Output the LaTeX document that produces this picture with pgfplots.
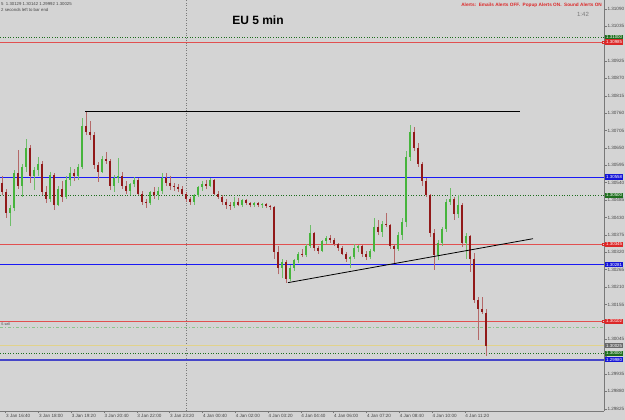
\documentclass[border=0pt]{standalone}
\usepackage{fontspec}
\setmainfont{Liberation Sans}
\usepackage{pgfplots}
\usepackage{pgfplotstable}
\pgfplotsset{compat=1.18}
\definecolor{bg}{RGB}{212,212,212}
\definecolor{axisgray}{RGB}{120,120,120}
\definecolor{tickgray}{RGB}{70,70,70}
\definecolor{upbody}{RGB}{70,180,60}
\definecolor{downbody}{RGB}{145,25,25}
\definecolor{upwick}{RGB}{110,190,105}
\definecolor{downwick}{RGB}{180,105,105}
\definecolor{lgreen}{RGB}{30,110,30}
\definecolor{lred}{RGB}{220,40,40}
\definecolor{lineRed}{RGB}{225,80,80}
\definecolor{lblue}{RGB}{20,20,215}
\definecolor{lineBlue}{RGB}{25,25,245}
\definecolor{lgray}{RGB}{105,105,105}
\definecolor{khaki}{RGB}{225,210,140}
\definecolor{dashgreen}{RGB}{140,195,140}
\definecolor{thickblue}{RGB}{70,70,200}

\pgfplotstableread{
i o h l c
0 1.30540 1.30560 1.30500 1.30510
1 1.30510 1.30520 1.30430 1.30445
2 1.30445 1.30470 1.30404 1.30460
3 1.30460 1.30580 1.30450 1.30570
4 1.30570 1.30644 1.30520 1.30530
5 1.30530 1.30600 1.30495 1.30590
6 1.30590 1.30679 1.30575 1.30650
7 1.30650 1.30660 1.30540 1.30560
8 1.30560 1.30590 1.30517 1.30580
9 1.30580 1.30622 1.30560 1.30600
10 1.30600 1.30610 1.30500 1.30510
11 1.30510 1.30530 1.30477 1.30490
12 1.30490 1.30574 1.30480 1.30565
13 1.30565 1.30570 1.30454 1.30470
14 1.30470 1.30530 1.30465 1.30520
15 1.30520 1.30545 1.30480 1.30495
16 1.30495 1.30560 1.30490 1.30550
17 1.30550 1.30590 1.30530 1.30570
18 1.30570 1.30585 1.30545 1.30560
19 1.30560 1.30600 1.30550 1.30590
20 1.30590 1.30745 1.30585 1.30720
21 1.30720 1.30764 1.30690 1.30700
22 1.30700 1.30735 1.30676 1.30690
23 1.30690 1.30700 1.30585 1.30597
24 1.30597 1.30605 1.30543 1.30575
25 1.30575 1.30625 1.30570 1.30615
26 1.30615 1.30638 1.30600 1.30610
27 1.30610 1.30615 1.30517 1.30530
28 1.30530 1.30565 1.30510 1.30555
29 1.30555 1.30619 1.30540 1.30560
30 1.30560 1.30575 1.30520 1.30530
31 1.30530 1.30545 1.30505 1.30515
32 1.30515 1.30540 1.30502 1.30535
33 1.30535 1.30559 1.30525 1.30550
34 1.30550 1.30555 1.30500 1.30505
35 1.30505 1.30515 1.30470 1.30480
36 1.30480 1.30490 1.30461 1.30475
37 1.30475 1.30515 1.30470 1.30510
38 1.30510 1.30527 1.30490 1.30500
39 1.30500 1.30525 1.30486 1.30515
40 1.30515 1.30571 1.30505 1.30555
41 1.30555 1.30571 1.30530 1.30540
42 1.30540 1.30560 1.30517 1.30530
43 1.30530 1.30540 1.30515 1.30525
44 1.30525 1.30535 1.30511 1.30520
45 1.30520 1.30530 1.30500 1.30505
46 1.30505 1.30510 1.30480 1.30490
47 1.30490 1.30495 1.30470 1.30480
48 1.30480 1.30505 1.30470 1.30500
49 1.30500 1.30530 1.30495 1.30525
50 1.30525 1.30545 1.30515 1.30535
51 1.30535 1.30549 1.30520 1.30530
52 1.30530 1.30556 1.30525 1.30550
53 1.30550 1.30552 1.30500 1.30505
54 1.30505 1.30515 1.30490 1.30495
55 1.30495 1.30500 1.30470 1.30480
56 1.30480 1.30490 1.30458 1.30470
57 1.30470 1.30480 1.30454 1.30465
58 1.30465 1.30495 1.30460 1.30480
59 1.30480 1.30492 1.30465 1.30470
60 1.30470 1.30490 1.30464 1.30485
61 1.30485 1.30490 1.30470 1.30475
62 1.30475 1.30478 1.30462 1.30470
63 1.30470 1.30480 1.30464 1.30476
64 1.30476 1.30480 1.30462 1.30468
65 1.30468 1.30477 1.30461 1.30472
66 1.30472 1.30475 1.30460 1.30466
67 1.30466 1.30470 1.30455 1.30462
68 1.30462 1.30466 1.30300 1.30320
69 1.30320 1.30340 1.30250 1.30270
70 1.30270 1.30300 1.30240 1.30290
71 1.30290 1.30296 1.30224 1.30235
72 1.30235 1.30280 1.30228 1.30270
73 1.30270 1.30300 1.30262 1.30295
74 1.30295 1.30320 1.30285 1.30315
75 1.30315 1.30330 1.30305 1.30310
76 1.30310 1.30345 1.30305 1.30340
77 1.30340 1.30407 1.30335 1.30380
78 1.30380 1.30385 1.30325 1.30335
79 1.30335 1.30340 1.30315 1.30325
80 1.30325 1.30360 1.30320 1.30355
81 1.30355 1.30370 1.30345 1.30365
82 1.30365 1.30375 1.30350 1.30360
83 1.30360 1.30365 1.30340 1.30345
84 1.30345 1.30350 1.30325 1.30335
85 1.30335 1.30340 1.30310 1.30315
86 1.30315 1.30320 1.30290 1.30300
87 1.30300 1.30308 1.30271 1.30305
88 1.30305 1.30345 1.30300 1.30335
89 1.30335 1.30344 1.30320 1.30340
90 1.30340 1.30342 1.30305 1.30315
91 1.30315 1.30325 1.30296 1.30305
92 1.30305 1.30330 1.30300 1.30325
93 1.30325 1.30429 1.30320 1.30400
94 1.30400 1.30423 1.30375 1.30385
95 1.30385 1.30420 1.30369 1.30410
96 1.30410 1.30445 1.30400 1.30405
97 1.30405 1.30410 1.30330 1.30340
98 1.30340 1.30345 1.30287 1.30330
99 1.30330 1.30385 1.30325 1.30375
100 1.30375 1.30429 1.30360 1.30415
101 1.30415 1.30640 1.30400 1.30620
102 1.30620 1.30723 1.30610 1.30700
103 1.30700 1.30715 1.30640 1.30650
104 1.30650 1.30666 1.30590 1.30600
105 1.30600 1.30605 1.30530 1.30545
106 1.30545 1.30555 1.30495 1.30500
107 1.30500 1.30505 1.30369 1.30380
108 1.30380 1.30395 1.30265 1.30310
109 1.30310 1.30360 1.30296 1.30350
110 1.30350 1.30401 1.30340 1.30395
111 1.30395 1.30490 1.30385 1.30480
112 1.30480 1.30524 1.30470 1.30490
113 1.30490 1.30495 1.30423 1.30440
114 1.30440 1.30502 1.30430 1.30470
115 1.30470 1.30475 1.30337 1.30350
116 1.30350 1.30382 1.30300 1.30370
117 1.30370 1.30375 1.30258 1.30300
118 1.30300 1.30319 1.30160 1.30170
119 1.30170 1.30178 1.30043 1.30140
120 1.30140 1.30179 1.30125 1.30130
121 1.30129 1.30142 1.29992 1.30025
}\candles

\begin{document}
\begin{tikzpicture}[x=1pt,y=1pt]
\fill[bg] (0,-9) rectangle (625,411);
\begin{axis}[
  at={(0,0)}, anchor=south west,
  scale only axis, width=604pt, height=411pt,
  xmin=-0.5, xmax=150.5, ymin=1.29818, ymax=1.31118,
  axis x line*=bottom, axis y line*=right,
  axis line style={draw=axisgray, line width=0.6pt},
  tick style={draw=axisgray, line width=0.5pt},
  tick align=outside, major tick length=2.5pt,
  clip=false,
  /pgf/number format/assume math mode=true,
  xtick={0.925,9.125,17.325,25.525,33.725,41.925,50.125,58.325,66.525,74.725,82.925,91.125,99.325,107.525,115.725},
  xticklabels={3 Jan 16:40,3 Jan 18:00,3 Jan 19:20,3 Jan 20:40,3 Jan 22:00,3 Jan 23:20,4 Jan 00:40,4 Jan 02:00,4 Jan 03:20,4 Jan 04:40,4 Jan 06:00,4 Jan 07:20,4 Jan 08:40,4 Jan 10:00,4 Jan 11:20},
  xticklabel style={anchor=north west, font=\fontsize{4.6}{5}\selectfont, text=tickgray, inner sep=0.8pt, xshift=-0.5pt},
  ytick={1.31090,1.31035,1.30980,1.30925,1.30870,1.30815,1.30760,1.30705,1.30650,1.30595,1.30540,1.30485,1.30430,1.30375,1.30320,1.30265,1.30210,1.30155,1.30100,1.30045,1.29990,1.29935,1.29880,1.29825},
  yticklabels={1.31090,1.31035,,1.30925,1.30870,1.30815,1.30760,1.30705,1.30650,1.30595,1.30540,1.30485,1.30430,1.30375,1.30320,1.30265,1.30210,1.30155,,1.30045,,1.29935,1.29880,1.29825},
  yticklabel style={anchor=west, font=\fontsize{4.6}{5}\selectfont, text=tickgray, inner sep=0.8pt},
]
% day separator
\addplot[axisgray, dotted, line width=0.5pt] coordinates {(46,1.29818) (46,1.31118)};
% horizontal levels
\addplot[lgreen, dotted, line width=0.6pt] coordinates {(-0.5,1.31000) (150.5,1.31000)};
\addplot[lineRed, line width=0.6pt] coordinates {(-0.5,1.30985) (150.5,1.30985)};
\addplot[lineBlue, line width=1pt] coordinates {(-0.5,1.30558) (150.5,1.30558)};
\addplot[lgreen, dotted, line width=0.6pt] coordinates {(-0.5,1.30500) (150.5,1.30500)};
\addplot[lineRed, line width=0.6pt] coordinates {(-0.5,1.30345) (150.5,1.30345)};
\addplot[lineBlue, line width=1pt] coordinates {(-0.5,1.30281) (150.5,1.30281)};
\addplot[lineRed, line width=0.6pt] coordinates {(-0.5,1.30102) (150.5,1.30102)};
\addplot[dashgreen, dash pattern=on 3pt off 2pt on 1pt off 2pt, line width=0.6pt] coordinates {(-0.5,1.30083) (150.5,1.30083)};
\addplot[khaki, line width=0.8pt] coordinates {(-0.5,1.30025) (150.5,1.30025)};
\addplot[lgreen, dotted, line width=0.6pt] coordinates {(-0.5,1.30000) (150.5,1.30000)};
\addplot[thickblue, line width=1.5pt] coordinates {(-0.5,1.29980) (150.5,1.29980)};
% candles
\pgfplotsforeachungrouped \k in {0,...,121}{%
  \pgfplotstablegetelem{\k}{o}\of\candles \let\Ov\pgfplotsretval
  \pgfplotstablegetelem{\k}{h}\of\candles \let\Hv\pgfplotsretval
  \pgfplotstablegetelem{\k}{l}\of\candles \let\Lv\pgfplotsretval
  \pgfplotstablegetelem{\k}{c}\of\candles \let\Cv\pgfplotsretval
  \ifdim\Cv pt<\Ov pt \def\bc{downbody}\def\wc{downwick}\else\def\bc{upbody}\def\wc{upwick}\fi
  \edef\tmp{\noexpand\addplot[\wc, line width=0.75pt] coordinates {(\k,\Lv) (\k,\Hv)};
    \noexpand\addplot[\bc, line width=2.4pt] coordinates {(\k,\Ov) (\k,\Cv)};}%
  \tmp
}
% drawn objects
\addplot[black, line width=0.9pt] coordinates {(20.75,1.30765) (129.5,1.30765)};
\addplot[black, line width=0.8pt] coordinates {(71.5,1.30224) (132.75,1.30363)};
% label anchors
\coordinate (b1) at (axis cs:150.5,1.31000);
\coordinate (b2) at (axis cs:150.5,1.30985);
\coordinate (b3) at (axis cs:150.5,1.30558);
\coordinate (b4) at (axis cs:150.5,1.30500);
\coordinate (b5) at (axis cs:150.5,1.30345);
\coordinate (b6) at (axis cs:150.5,1.30281);
\coordinate (b7) at (axis cs:150.5,1.30102);
\coordinate (b8) at (axis cs:150.5,1.30025);
\coordinate (b9) at (axis cs:150.5,1.30000);
\coordinate (b10) at (axis cs:150.5,1.29980);
\end{axis}
\tikzset{lbl/.style={anchor=west, text=white, font=\fontsize{4.4}{5}\selectfont, inner xsep=1pt, inner ysep=0.5pt, minimum height=5.4pt, xshift=1pt}}
\node[lbl, fill=lgreen] at (b1) {1.31000};
\node[lbl, fill=lred] at (b2) {1.30985};
\node[lbl, fill=lblue] at (b3) {1.30558};
\node[lbl, fill=lgreen] at (b4) {1.30500};
\node[lbl, fill=lred] at (b5) {1.30345};
\node[lbl, fill=lblue] at (b6) {1.30281};
\node[lbl, fill=lred] at (b7) {1.30102};
\node[lbl, fill=lgray] at (b8) {1.30025};
\node[lbl, fill=lgreen] at (b9) {1.30000};
\node[lbl, fill=lblue] at (b10) {1.29980};
\foreach \b in {b2,b5,b7}{\node[draw=lred, fill=bg, minimum size=2.2pt, inner sep=0pt, line width=0.4pt] at ([xshift=-1pt]\b) {};}
% texts
\node[anchor=center, font=\fontsize{12}{14}\selectfont\bfseries] at (258,391) {EU 5 min};
\node[anchor=west, font=\fontsize{4.3}{5}\selectfont, text=tickgray, inner sep=0pt] at (1,406.5) {5 \ 1.30129 1.30142 1.29992 1.30025};
\node[anchor=west, font=\fontsize{4.3}{5}\selectfont, text=tickgray, inner sep=0pt] at (1,401.5) {2 seconds left to bar end};
\node[anchor=east, font=\fontsize{4.7}{5}\selectfont\bfseries, text=lred, inner sep=0pt] at (602,405.5) {Alerts:\ \ Emails Alerts OFF.\ \ Popup Alerts ON.\ \ Sound Alerts ON};
\node[anchor=center, font=\fontsize{6}{7}\selectfont, text=axisgray, inner sep=0pt] at (583,397) {1:42};
\node[anchor=west, font=\fontsize{3.6}{4}\selectfont, text=tickgray, inner sep=0pt] at (1,87) {S sell};
\pgfresetboundingbox
\useasboundingbox (0,-9) rectangle (625,411);
\end{tikzpicture}
\end{document}
